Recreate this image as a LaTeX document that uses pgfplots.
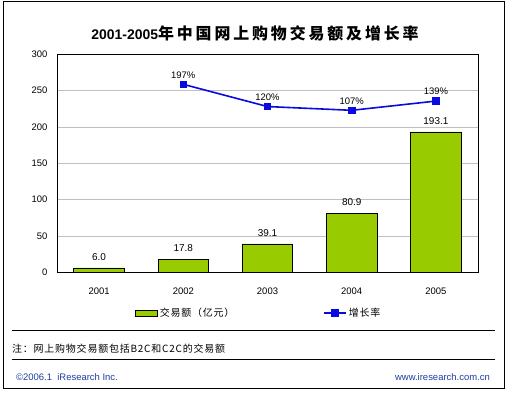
\documentclass[border=0pt]{standalone}
\usepackage{pgfplots}
\pgfplotsset{compat=1.18}
\usepackage{fontspec}
\setmainfont{Liberation Sans}
\newfontfamily\cjk[LetterSpace=8]{Noto Sans CJK SC}
\newfontfamily\cjkt[LetterSpace=18]{Noto Sans CJK SC}
\definecolor{bargreen}{HTML}{99CC00}
\definecolor{lineblue}{HTML}{0A0AE0}
\definecolor{footblue}{HTML}{1F3FA0}
\definecolor{gridgray}{HTML}{C0C0C0}
\pgfplotsset{/pgf/number format/assume math mode=true,
  mylinelegend/.style={legend image code/.code={\draw[##1] (0bp,0bp) -- (22bp,0bp); \fill[##1] (8bp,-3bp) rectangle (14bp,3bp);}},
  mybarlegend/.style={legend image code/.code={\draw[##1] (0bp,-3bp) rectangle (22bp,3bp);}}}
\begin{document}
\begin{tikzpicture}[x=1bp,y=1bp]
\fill[white] (0,0) rectangle (509,393);
\draw[line width=1bp] (3,4.7) rectangle (504,391);
\node[font=\fontsize{14}{16}\selectfont\bfseries] at (255,360) {2001-2005{\fontsize{16}{18}\selectfont\cjkt 年中国网上购物交易额及增长率}};
\coordinate (O) at (57bp,120.7bp);
\begin{axis}[
  at={(O)}, anchor=south west,
  scale only axis, width=421bp, height=218bp,
  ybar, bar width=0.6,
  xmin=-0.5, xmax=4.5, ymin=0, ymax=300,
  ytick={0,50,...,300},
  xtick={0,1,2,3,4},
  xticklabels={2001,2002,2003,2004,2005},
  ymajorgrids,
  grid style={color=gridgray, line width=0.8bp},
  major tick length=0pt,
  axis line style={line width=0.9bp},
  tick label style={font=\fontsize{9.5}{11}\selectfont},
  yticklabel style={xshift=-6bp},
  xticklabel style={yshift=-12bp},
  nodes near coords,
  every node near coord/.append style={font=\fontsize{10}{12}\selectfont, yshift=4bp,
     /pgf/number format/fixed, /pgf/number format/fixed zerofill, /pgf/number format/precision=1},
  legend columns=-1,
  legend style={at={(0.178,-0.187)}, anchor=west, draw=none, fill=none,
     font=\fontsize{10}{12}\selectfont,
     /tikz/every even column/.append style={column sep=87bp}},
]
\addplot[fill=bargreen, draw=black, line width=0.7bp, mybarlegend]
  coordinates {(0,6.0) (1,17.8) (2,39.1) (3,80.9) (4,193.1)};
\addlegendentry{\cjk 交易额（亿元）}
\addlegendimage{color=lineblue, line width=1.6bp, mylinelegend}
\addlegendentry{\cjk 增长率}
\end{axis}
\begin{axis}[
  at={(O)}, anchor=south west,
  scale only axis, width=421bp, height=218bp,
  hide axis,
  xmin=-0.5, xmax=4.5, ymin=-454, ymax=301,
  nodes near coords, point meta=explicit symbolic,
  every node near coord/.append style={font=\fontsize{9.5}{11}\selectfont, black, yshift=2bp},
]
\addplot[color=lineblue, line width=1.6bp, mark=square*, mark size=3bp]
  coordinates {(1,197) [197\%] (2,120) [120\%] (3,107) [107\%] (4,139) [139\%]};
\end{axis}
\draw[line width=0.8bp] (12,63) -- (495,63);
\draw[line width=0.8bp] (12,34) -- (495,34);
\node[anchor=west, font=\fontsize{10}{12}\selectfont, inner sep=0pt] at (12,44) {\cjk 注：网上购物交易额包括B2C和C2C的交易额};
\node[anchor=west, font=\fontsize{9.5}{11}\selectfont, text=footblue, inner sep=0pt] at (16,16) {©2006.1\ \ iResearch Inc.};
\node[anchor=east, font=\fontsize{9.5}{11}\selectfont, text=footblue, inner sep=0pt] at (490,16) {www.iresearch.com.cn};
\end{tikzpicture}
\end{document}
